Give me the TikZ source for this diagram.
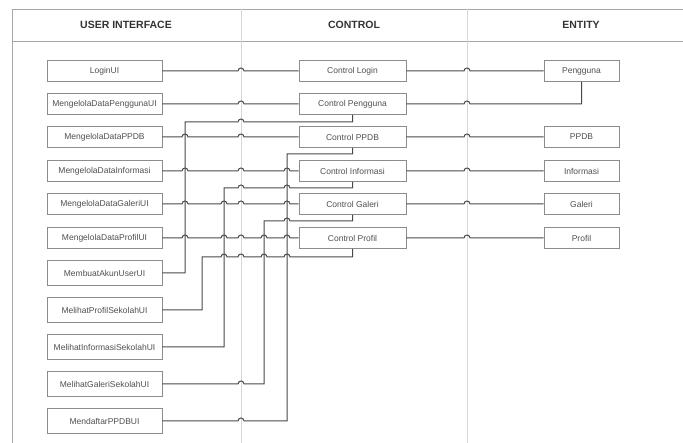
\documentclass[tikz,border=0pt]{standalone}
\usepackage{fontspec}
\setmainfont{Liberation Sans}
\usetikzlibrary{calc}
\definecolor{frameC}{HTML}{A6A6A6}
\definecolor{colC}{HTML}{D6D6D6}
\definecolor{lineC}{HTML}{484848}
\definecolor{boxC}{HTML}{8C8C8C}
\definecolor{txtC}{HTML}{505050}
\definecolor{hdrC}{HTML}{333333}
\newcommand\hp[1]{-- ($#1+(-3,0)$) arc[start angle=180,end angle=360,radius=3]}
\tikzset{
  box/.style={draw=boxC, line width=0.8pt, fill=white, inner sep=0pt, text=txtC,
    font=\fontsize{8.5}{10}\selectfont},
  uibox/.style={box, minimum width=115pt, minimum height=21pt},
  uiboxb/.style={box, minimum width=115pt, minimum height=25pt},
  ctbox/.style={box, minimum width=107pt, minimum height=21pt},
  enbox/.style={box, minimum width=75pt, minimum height=21pt},
  hdr/.style={font=\fontsize{10.5}{12}\selectfont\bfseries, text=hdrC},
  conn/.style={draw=lineC, line width=1pt},
}
\begin{document}
\begin{tikzpicture}[x=1pt, y=-1pt]
\useasboundingbox (0,0) rectangle (683,443);
% frame
\draw[frameC, line width=0.9pt] (683,9) -- (12,9) -- (12,443);
\draw[frameC, line width=0.9pt] (12,41) -- (683,41);
\draw[colC, line width=0.8pt] (241,9) -- (241,443);
\draw[colC, line width=0.8pt] (467,9) -- (467,443);
% headers
\node[hdr] (hUI) at (126,25) {USER INTERFACE};
\node[hdr] (hCT) at (354,25) {CONTROL};
\node[hdr] (hEN) at (581,25) {ENTITY};
% reference coordinates
\coordinate (colA) at (241,0);
\coordinate (colB) at (467,0);
\coordinate (vA) at (185,0);
\coordinate (vB) at (202,0);
\coordinate (vC) at (224,0);
\coordinate (vD) at (264,0);
\coordinate (vE) at (287,0);
\coordinate (hP) at (0,122);
\coordinate (hD) at (0,154);
\coordinate (hI) at (0,188);
\coordinate (hG) at (0,221);
\coordinate (hR) at (0,257);
% UI nodes
\node[uibox] (u1) at (104.5,71) {LoginUI};
\node[uibox] (u2) at (104.5,104) {MengelolaDataPenggunaUI};
\node[uibox] (u3) at (104.5,137) {MengelolaDataPPDB};
\node[uibox] (u4) at (104.5,171) {MengelolaDataInformasi};
\node[uibox] (u5) at (104.5,204) {MengelolaDataGaleriUI};
\node[uibox] (u6) at (104.5,238) {MengelolaDataProfilUI};
\node[uiboxb] (u7) at (104.5,273) {MembuatAkunUserUI};
\node[uiboxb] (u8) at (104.5,310) {MelihatProfilSekolahUI};
\node[uiboxb] (u9) at (104.5,347) {MelihatInformasiSekolahUI};
\node[uiboxb] (u10) at (104.5,384) {MelihatGaleriSekolahUI};
\node[uiboxb] (u11) at (104.5,421) {MendaftarPPDBUI};
% control nodes
\node[ctbox] (c1) at (352.5,71) {Control Login};
\node[ctbox] (c2) at (352.5,104) {Control Pengguna};
\node[ctbox] (c3) at (352.5,137) {Control PPDB};
\node[ctbox] (c4) at (352.5,171) {Control Informasi};
\node[ctbox] (c5) at (352.5,204) {Control Galeri};
\node[ctbox] (c6) at (352.5,238) {Control Profil};
% entity nodes
\node[enbox] (e1) at (581.5,71) {Pengguna};
\node[enbox] (e2) at (581.5,137) {PPDB};
\node[enbox] (e3) at (581.5,171) {Informasi};
\node[enbox] (e4) at (581.5,204) {Galeri};
\node[enbox] (e5) at (581.5,238) {Profil};
% UI -> control (horizontal)
\draw[conn] (u1.east) \hp{(colA|-u1.east)} -- (c1.west);
\draw[conn] (u2.east) \hp{(colA|-u2.east)} -- (c2.west);
\draw[conn] (u3.east) \hp{(vA|-u3.east)} \hp{(colA|-u3.east)} -- (c3.west);
\draw[conn] (u4.east) \hp{(vA|-u4.east)} \hp{(colA|-u4.east)} \hp{(vE|-u4.east)} -- (c4.west);
\draw[conn] (u5.east) \hp{(vA|-u5.east)} \hp{(vC|-u5.east)} \hp{(colA|-u5.east)} \hp{(vE|-u5.east)} -- (c5.west);
\draw[conn] (u6.east) \hp{(vA|-u6.east)} \hp{(vC|-u6.east)} \hp{(colA|-u6.east)} \hp{(vD|-u6.east)} \hp{(vE|-u6.east)} -- (c6.west);
% UI -> control (routed to bottom)
\draw[conn] (u7.east) -- (vA|-u7.east) -- (vA|-hP) \hp{(colA|-hP)} -- (c2.south|-hP) -- (c2.south);
\draw[conn] (u8.east) -- (vB|-u8.east) -- (vB|-hR) \hp{(vC|-hR)} \hp{(colA|-hR)} \hp{(vD|-hR)} \hp{(vE|-hR)} -- (c6.south|-hR) -- (c6.south);
\draw[conn] (u9.east) -- (vC|-u9.east) -- (vC|-hI) \hp{(colA|-hI)} \hp{(vE|-hI)} -- (c4.south|-hI) -- (c4.south);
\draw[conn] (u10.east) \hp{(colA|-u10.east)} -- (vD|-u10.east) -- (vD|-hG) \hp{(vE|-hG)} -- (c5.south|-hG) -- (c5.south);
\draw[conn] (u11.east) \hp{(colA|-u11.east)} -- (vE|-u11.east) -- (vE|-hD) -- (c3.south|-hD) -- (c3.south);
% control -> entity
\draw[conn] (c1.east) \hp{(colB|-c1.east)} -- (e1.west);
\draw[conn] (c2.east) \hp{(colB|-c2.east)} -- (e1.south|-c2.east) -- (e1.south);
\draw[conn] (c3.east) \hp{(colB|-c3.east)} -- (e2.west);
\draw[conn] (c4.east) \hp{(colB|-c4.east)} -- (e3.west);
\draw[conn] (c5.east) \hp{(colB|-c5.east)} -- (e4.west);
\draw[conn] (c6.east) \hp{(colB|-c6.east)} -- (e5.west);
\end{tikzpicture}
\end{document}
